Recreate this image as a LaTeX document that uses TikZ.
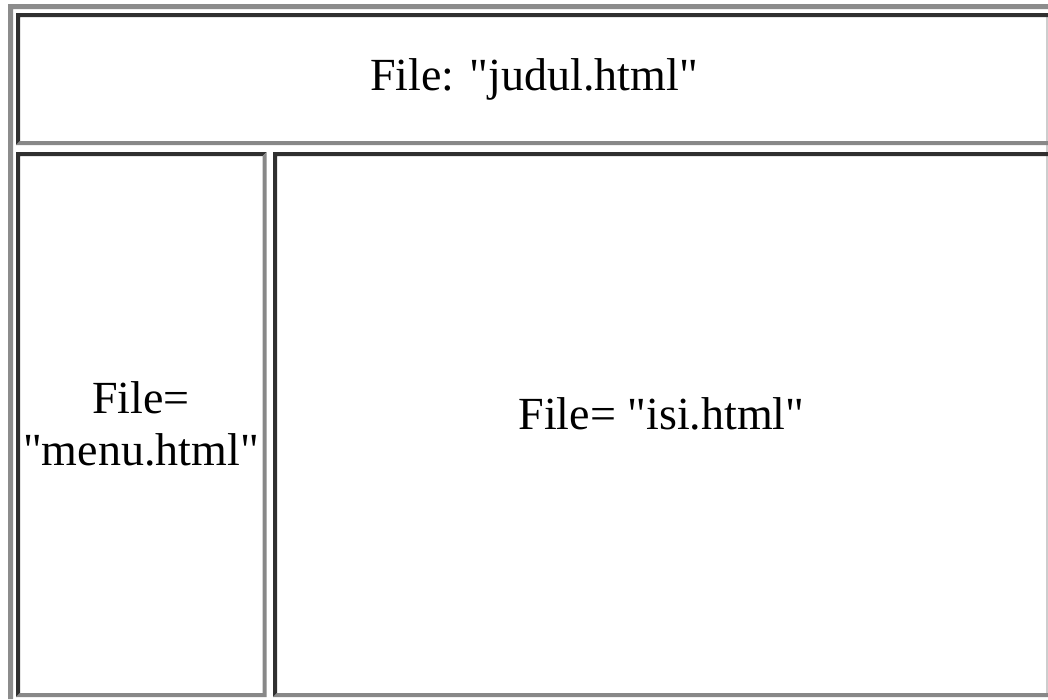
\documentclass[tikz,border=0pt]{standalone}
\usepackage{fontspec}
\setmainfont[Ligatures=TeXOff]{Liberation Serif}
\definecolor{darkb}{RGB}{48,48,48}
\definecolor{lightb}{RGB}{136,136,136}
\definecolor{outerb}{RGB}{140,140,140}
\definecolor{edgeb}{RGB}{205,205,205}
\tikzset{
  celltext/.style={font=\fontsize{46}{52}\selectfont, align=center, inner sep=0pt, text=black},
}
% inset border: #1,#2 = top-left corner, #3,#4 = bottom-right corner (px, y down), w=4
\newcommand{\insetbox}[4]{%
  \fill[darkb] (#1,-#4) -- (#1,-#2) -- (#3,-#2) -- (#3-4,-#2-4) -- (#1+4,-#2-4) -- (#1+4,-#4+4) -- cycle;
  \fill[lightb] (#3,-#2) -- (#3,-#4) -- (#1,-#4) -- (#1+4,-#4+4) -- (#3-4,-#4+4) -- (#3-4,-#2-4) -- cycle;
}
\begin{document}
\begin{tikzpicture}[x=1pt,y=1pt]
\useasboundingbox (0,0) rectangle (1048,-699);
\fill[white] (0,0) rectangle (1048,-699);
% outer table border (top and left bands)
\fill[outerb] (8,-699) -- (8,-4) -- (1048,-4) -- (1048,-9) -- (13,-9) -- (13,-699) -- cycle;
% right edge light line
\fill[edgeb] (1046,-17) rectangle (1047.5,-693);
% header cell
\insetbox{16}{13}{1052}{145}
% menu cell
\insetbox{16}{152}{266.5}{697}
% content cell
\insetbox{273}{152}{1052}{697}
% texts
\node[celltext] (judul) at (534,-79) {File: "judul.html"};
\node[celltext] (menu) at (141,-424) {File=\\"menu.html"};
\node[celltext] (isi) at (661.5,-414) {File= "isi.html"};
\end{tikzpicture}
\end{document}
